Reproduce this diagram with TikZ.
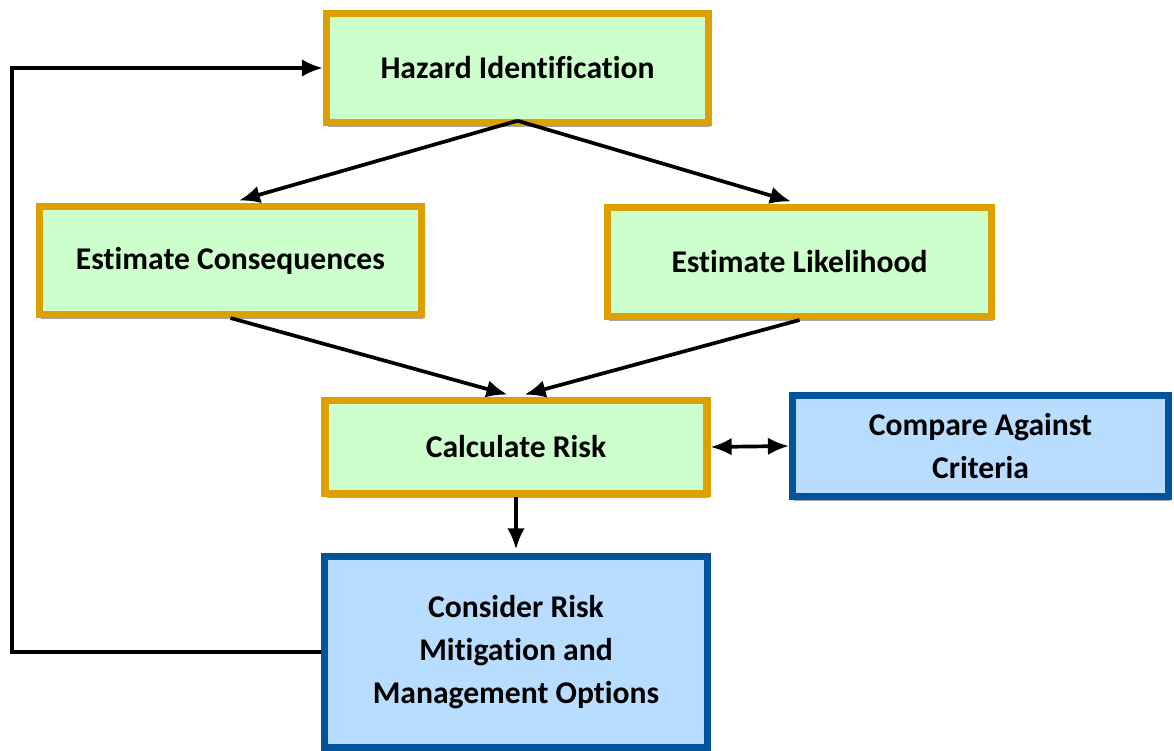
\documentclass[tikz,border=0pt]{standalone}
\usepackage{fontspec}
\setmainfont{Carlito}[RawFeature={-liga;-calt;-dlig;-clig}]
\usepackage{xcolor}
\usetikzlibrary{shapes,arrows,positioning,shadows,arrows.meta}

\definecolor{goldline}{RGB}{222,160,0}
\definecolor{greenfill}{RGB}{204,255,204}
\definecolor{blueline}{RGB}{0,84,156}
\definecolor{bluefill}{RGB}{185,221,255}

\begin{document}
\begin{tikzpicture}[
    greenbox/.style={draw=goldline, fill=greenfill, line width=4pt, align=center,
        font=\fontsize{18}{24.5}\selectfont\bfseries,
        drop shadow={shadow xshift=1pt, shadow yshift=-2.5pt, opacity=0.7, fill=gray}},
    bluebox/.style={greenbox, draw=blueline, fill=bluefill},
    arr/.style={-{Latex[length=12pt,width=10pt]}, line width=2.1pt}
]
    \useasboundingbox (0,0) rectangle (23.48,-15.02);

    % Process boxes
    \node[greenbox, minimum width=7.64cm, minimum height=2.18cm] (haz) at (10.35,-1.36) {Hazard Identification};
    \node[greenbox, minimum width=7.64cm, minimum height=2.16cm] (cons) at (4.61,-5.21) {Estimate Consequences};
    \node[greenbox, minimum width=7.68cm, minimum height=2.18cm] (like) at (15.99,-5.24) {Estimate Likelihood};
    \node[greenbox, minimum width=7.64cm, minimum height=1.86cm] (calc) at (10.32,-8.94) {Calculate Risk};
    \node[bluebox, minimum width=7.52cm, minimum height=2.02cm] (comp) at (19.61,-8.92) {Compare Against\\Criteria};
    \node[bluebox, minimum width=7.66cm, minimum height=3.82cm] (opt) at (10.32,-13.04) {Consider Risk\\Mitigation and\\Management Options};

    % Arrows
    \draw[arr, shorten >=5pt] ([yshift=3pt]haz.south) -- (cons.north);
    \draw[arr, shorten >=5pt] ([yshift=3pt]haz.south) -- (like.north);
    \draw[arr, shorten >=5pt] (cons.south) -- (calc.north);
    \draw[arr, shorten >=5pt] (like.south) -- (calc.north);
    \draw[arr, shorten >=2pt] (calc.south) -- (opt.north);
    \draw[arr, {Latex[length=12pt,width=10pt]}-{Latex[length=12pt,width=10pt]}] (calc.east) -- (comp.west);

    % Feedback loop
    \coordinate (back) at (0.24,0);
    \draw[arr] (opt.west) -| (back |- haz.west) -- (haz.west);
\end{tikzpicture}
\end{document}
